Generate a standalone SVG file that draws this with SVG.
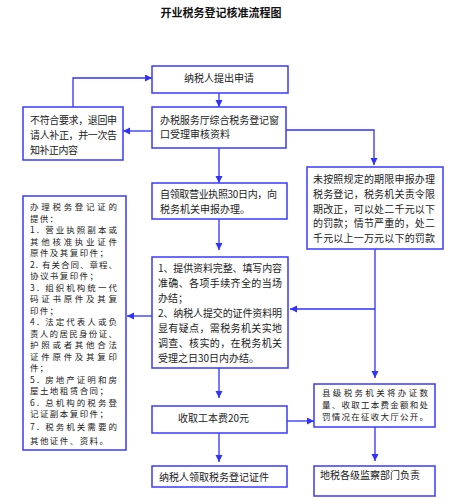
<svg xmlns="http://www.w3.org/2000/svg" width="449" height="500" viewBox="0 0 449 500">
<defs>
<marker id="ah" markerUnits="userSpaceOnUse" markerWidth="8" markerHeight="8" refX="7" refY="3.5" orient="auto">
<path d="M0,0 L7,3.5 L0,7 z" fill="#3030ff"/>
</marker>
<style>
.box{fill:#fff;stroke:#3a3aff;stroke-width:1.5}
.t{font-family:"Noto Sans CJK SC","Liberation Serif",serif;font-size:10px;fill:#222}
.s{font-size:8.5px}
.ttl{font-family:"Noto Sans CJK SC","Liberation Serif",serif;font-size:11px;fill:#111;font-weight:bold}
.ln{fill:none;stroke:#3030ff;stroke-width:1.3}
</style>
</defs>
<rect width="449" height="500" fill="#fff"/>
<text class="ttl" x="221" y="17" text-anchor="middle">开业税务登记核准流程图</text>

<g id="connectors">
<path class="ln" d="M219,93 V107" marker-end="url(#ah)"/>
<path class="ln" d="M152,131 H123" marker-end="url(#ah)"/>
<path class="ln" d="M73,107 V78 H152" marker-end="url(#ah)"/>
<path class="ln" d="M286,130 H374 V165" marker-end="url(#ah)"/>
<path class="ln" d="M219,148 V183" marker-end="url(#ah)"/>
<path class="ln" d="M219,219 V250" marker-end="url(#ah)"/>
<path class="ln" d="M152,316 H127" marker-end="url(#ah)"/>
<path class="ln" d="M375,249 V378" marker-end="url(#ah)"/>
<path class="ln" d="M375,309 H290" marker-end="url(#ah)"/>
<path class="ln" d="M219,368 V398" marker-end="url(#ah)"/>
<path class="ln" d="M219,433 V462" marker-end="url(#ah)"/>
<path class="ln" d="M287,421 H314" marker-end="url(#ah)"/>
<path class="ln" d="M375,427 V461" marker-end="url(#ah)"/>
</g>

<g id="n1">
<rect class="box" x="152" y="66" width="136" height="27"/>
<text class="t" x="219" y="82" text-anchor="middle">纳税人提出申请</text>
</g>
<g id="n2">
<rect class="box" x="152" y="107" width="134" height="41"/>
<text class="t" x="160" y="124" textLength="119" lengthAdjust="spacing">办税服务厅综合税务登记窗</text>
<text class="t" x="160" y="138">口受理审核资料</text>
</g>
<g id="n3">
<rect class="box" x="23" y="107" width="100" height="53"/>
<text class="t" x="30" y="124" textLength="87" lengthAdjust="spacing">不符合要求，退回申</text>
<text class="t" x="30" y="139" textLength="87" lengthAdjust="spacing">请人补正，并一次告</text>
<text class="t" x="30" y="154" textLength="48" lengthAdjust="spacing">知补正内容</text>
</g>
<g id="n4">
<rect class="box" x="307" y="167" width="136" height="82"/>
<text class="t" x="313" y="183" textLength="122" lengthAdjust="spacing">未按照规定的期限申报办理</text>
<text class="t" x="313" y="198" textLength="122" lengthAdjust="spacing">税务登记，税务机关责令限</text>
<text class="t" x="313" y="213" textLength="122" lengthAdjust="spacing">期改正，可以处二千元以下</text>
<text class="t" x="313" y="227" textLength="122" lengthAdjust="spacing">的罚款；情节严重的，处二</text>
<text class="t" x="313" y="242" textLength="122" lengthAdjust="spacing">千元以上一万元以下的罚款</text>
</g>
<g id="n5">
<rect class="box" x="152" y="183" width="135" height="36"/>
<text class="t" x="160" y="198" textLength="117" lengthAdjust="spacing">自领取营业执照30日内，向</text>
<text class="t" x="160" y="213">税务机关申报办理。</text>
</g>
<g id="n6">
<rect class="box" x="152" y="257" width="136" height="111"/>
<text class="t" x="158" y="272" textLength="124" lengthAdjust="spacing">1、提供资料完整、填写内容</text>
<text class="t" x="158" y="287" textLength="124" lengthAdjust="spacing">准确、各项手续齐全的当场</text>
<text class="t" x="158" y="302">办结；</text>
<text class="t" x="158" y="317" textLength="124" lengthAdjust="spacing">2、纳税人提交的证件资料明</text>
<text class="t" x="158" y="332" textLength="124" lengthAdjust="spacing">显有疑点，需税务机关实地</text>
<text class="t" x="158" y="347" textLength="124" lengthAdjust="spacing">调查、核实的，在税务机关</text>
<text class="t" x="158" y="362">受理之日30日内办结。</text>
</g>
<g id="n7">
<rect class="box" x="23" y="196" width="103" height="254"/>
<text class="t s" x="30" y="210" textLength="87" lengthAdjust="spacing">办理税务登记证的</text>
<text class="t s" x="30" y="221.5" textLength="28" lengthAdjust="spacing">提供：</text>
<text class="t s" x="30" y="233" textLength="87" lengthAdjust="spacing">1. 营业执照副本或</text>
<text class="t s" x="30" y="244.5" textLength="87" lengthAdjust="spacing">其他核准执业证件</text>
<text class="t s" x="30" y="256" textLength="78" lengthAdjust="spacing">原件及其复印件；</text>
<text class="t s" x="30" y="267.5" textLength="87" lengthAdjust="spacing">2. 有关合同、章程、</text>
<text class="t s" x="30" y="279" textLength="68" lengthAdjust="spacing">协议书复印件；</text>
<text class="t s" x="30" y="290.5" textLength="87" lengthAdjust="spacing">3. 组织机构统一代</text>
<text class="t s" x="30" y="302" textLength="87" lengthAdjust="spacing">码证书原件及其复</text>
<text class="t s" x="30" y="313.5" textLength="28" lengthAdjust="spacing">印件；</text>
<text class="t s" x="30" y="325" textLength="87" lengthAdjust="spacing">4. 法定代表人或负</text>
<text class="t s" x="30" y="336.5" textLength="87" lengthAdjust="spacing">责人的居民身份证、</text>
<text class="t s" x="30" y="348" textLength="87" lengthAdjust="spacing">护照或者其他合法</text>
<text class="t s" x="30" y="359.5" textLength="87" lengthAdjust="spacing">证件原件及其复印</text>
<text class="t s" x="30" y="371" textLength="18" lengthAdjust="spacing">件；</text>
<text class="t s" x="30" y="382.5" textLength="87" lengthAdjust="spacing">5. 房地产证明和房</text>
<text class="t s" x="30" y="394" textLength="78" lengthAdjust="spacing">屋土地租赁合同；</text>
<text class="t s" x="30" y="405.5" textLength="87" lengthAdjust="spacing">6. 总机构的税务登</text>
<text class="t s" x="30" y="417" textLength="78" lengthAdjust="spacing">记证副本复印件；</text>
<text class="t s" x="30" y="430" textLength="87" lengthAdjust="spacing">7. 税务机关需要的</text>
<text class="t s" x="30" y="444" textLength="78" lengthAdjust="spacing">其他证件、资料。</text>
</g>
<g id="n8">
<rect class="box" x="152" y="406" width="135" height="27"/>
<text class="t" x="178" y="422">收取工本费20元</text>
</g>
<g id="n9">
<rect class="box" x="314" y="384" width="121" height="43"/>
<text class="t s" x="322" y="396" textLength="106" lengthAdjust="spacing">县级税务机关将办证数</text>
<text class="t s" x="322" y="407.5" textLength="106" lengthAdjust="spacing">量、收取工本费金额和处</text>
<text class="t s" x="322" y="420" textLength="106" lengthAdjust="spacing">罚情况在征收大厅公开。</text>
</g>
<g id="n10">
<rect class="box" x="152" y="466" width="135" height="21"/>
<text class="t" x="159" y="481">纳税人领取税务登记证件</text>
</g>
<g id="n11">
<rect class="box" x="314" y="466" width="121" height="30"/>
<text class="t" x="320" y="479">地税各级监察部门负责</text>
</g>
</svg>
